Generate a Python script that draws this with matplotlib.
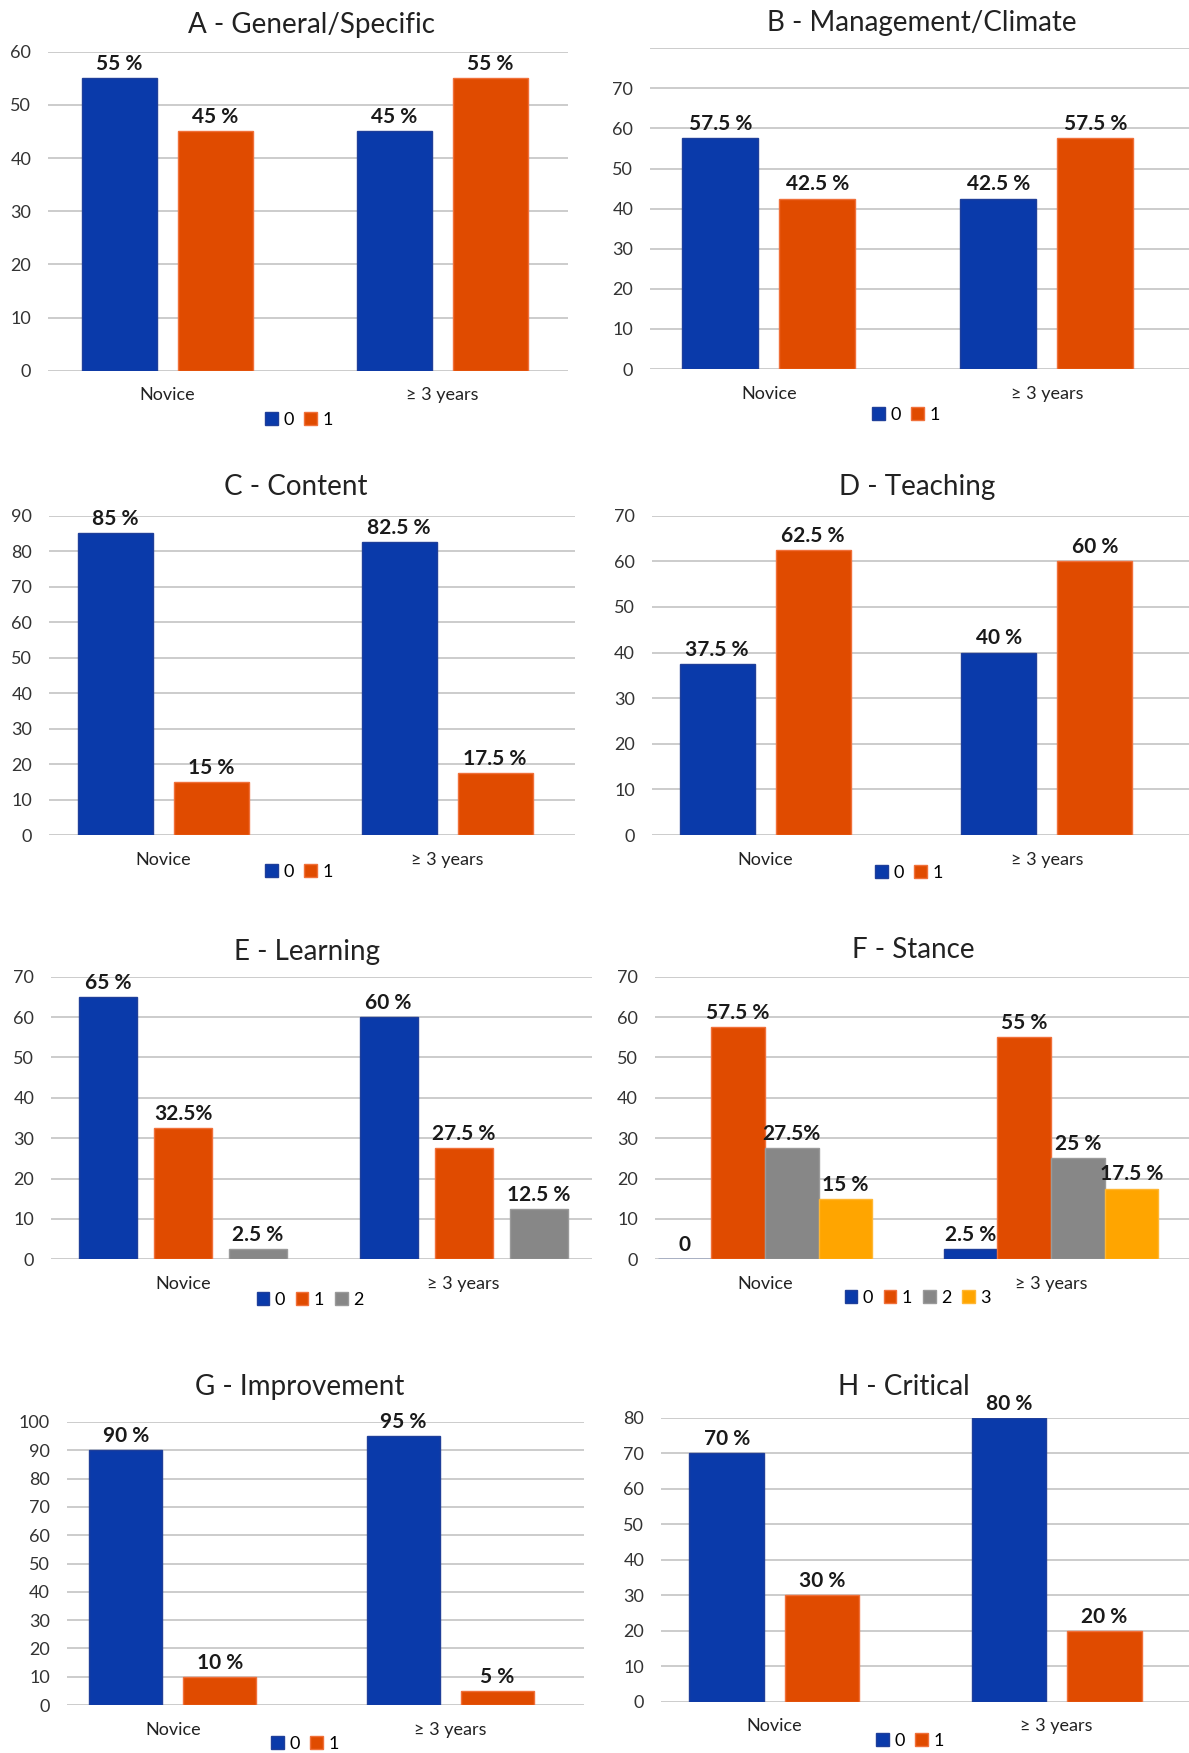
import numpy as np
import matplotlib.pyplot as plt

plt.rcParams['font.family'] = ['Lato', 'DejaVu Sans']

# categories
groups = ["Novice", "\u2265 3 years"]

# A - General/Specific
a_0 = [55, 45]
a_1 = [45, 55]
a_lbl_0 = ["55 %", "45 %"]
a_lbl_1 = ["45 %", "55 %"]

# B - Management/Climate
b_0 = [57.5, 42.5]
b_1 = [42.5, 57.5]
b_lbl_0 = ["57.5 %", "42.5 %"]
b_lbl_1 = ["42.5 %", "57.5 %"]

# C - Content
c_0 = [85, 82.5]
c_1 = [15, 17.5]
c_lbl_0 = ["85 %", "82.5 %"]
c_lbl_1 = ["15 %", "17.5 %"]

# D - Teaching
d_0 = [37.5, 40]
d_1 = [62.5, 60]
d_lbl_0 = ["37.5 %", "40 %"]
d_lbl_1 = ["62.5 %", "60 %"]

# E - Learning
e_0 = [65, 60]
e_1 = [32.5, 27.5]
e_2 = [2.5, 12.5]
e_lbl_0 = ["65 %", "60 %"]
e_lbl_1 = ["32.5%", "27.5 %"]
e_lbl_2 = ["2.5 %", "12.5 %"]

# F - Stance
f_0 = [0, 2.5]
f_1 = [57.5, 55]
f_2 = [27.5, 25]
f_3 = [15, 17.5]
f_lbl_0 = ["0", "2.5 %"]
f_lbl_1 = ["57.5 %", "55 %"]
f_lbl_2 = ["27.5%", "25 %"]
f_lbl_3 = ["15 %", "17.5 %"]

# G - Improvement
g_0 = [90, 95]
g_1 = [10, 5]
g_lbl_0 = ["90 %", "95 %"]
g_lbl_1 = ["10 %", "5 %"]

# H - Critical
h_0 = [70, 80]
h_1 = [30, 20]
h_lbl_0 = ["70 %", "80 %"]
h_lbl_1 = ["30 %", "20 %"]

colors = ['#0a3aaa', '#e04b00', '#878787', '#ffa500']
edges = ['#1f3f9a', '#f0703a', '#9a9a9a', '#ffb733']

W, H = 1189, 1753
fig = plt.figure(figsize=(W / 100, H / 100), dpi=100)


def panel(title, series, labels, ymax, tick_max, box, centres, bw, gap, title_xy, leg_xy):
    L, R, top, bot = box
    c0, c1 = centres
    d = c1 - c0
    ax = fig.add_axes([L / W, 1 - bot / H, (R - L) / W, (bot - top) / H])
    x = np.arange(len(groups))
    n = len(series)
    for i, (vals, lbls) in enumerate(zip(series, labels)):
        off = (i - (n - 1) / 2) * (bw + gap) / d
        bars = ax.bar(x + off, vals, bw / d, color=colors[i], edgecolor=edges[i],
                      linewidth=1, zorder=3, label=str(i))
        ax.bar_label(bars, labels=lbls, padding=3, fontsize=15, fontweight='bold',
                     color='#1a1a1a')
    ax.set_xlim((L - c0) / d, (R - c0) / d)
    ax.set_ylim(0, ymax)
    ticks = np.arange(0, ymax + 1, 10)
    ax.set_yticks(ticks)
    ax.set_yticklabels([str(t) if t <= tick_max else "" for t in ticks])
    ax.set_xticks(x)
    ax.set_xticklabels(groups)
    ax.tick_params(axis='y', length=0, pad=12, labelsize=13, labelcolor='#333333')
    ax.tick_params(axis='x', length=0, pad=12, labelsize=13, labelcolor='#222222')
    for s in ax.spines.values():
        s.set_visible(False)
    ax.yaxis.grid(True, color='#c8c8c8', linewidth=1.3)
    ax.set_axisbelow(True)
    fig.text(title_xy[0] / W, 1 - title_xy[1] / H, title, fontsize=20,
             ha='center', va='center', color='#222222')
    fig.legend(handles=[c[0] for c in ax.containers],
               labels=[str(i) for i in range(n)], loc='center',
               bbox_to_anchor=(leg_xy[0] / W, 1 - leg_xy[1] / H), ncol=n,
               frameon=False, fontsize=13, handlelength=0.7, handleheight=0.7,
               handletextpad=0.3, columnspacing=0.6, borderpad=0)
    return ax


panel("A - General/Specific", [a_0, a_1], [a_lbl_0, a_lbl_1], 60, 60,
      (48, 568, 51.7, 370.7), (167.3, 442), 75, 21, (311, 25), (299, 420))
panel("B - Management/Climate", [b_0, b_1], [b_lbl_0, b_lbl_1], 80, 70,
      (650, 1189, 48.3, 369), (768.9, 1046.8), 76, 21, (921.7, 23), (906, 415))
panel("C - Content", [c_0, c_1], [c_lbl_0, c_lbl_1], 90, 90,
      (49, 575, 515.7, 835), (163.5, 447), 75, 21, (296, 487), (299, 872))
panel("D - Teaching", [d_0, d_1], [d_lbl_0, d_lbl_1], 70, 70,
      (651.7, 1189, 515.7, 835), (765, 1046.8), 75, 21, (917, 487), (909, 873))
panel("E - Learning", [e_0, e_1, e_2], [e_lbl_0, e_lbl_1, e_lbl_2], 70, 70,
      (51, 592, 976.7, 1259.3), (183, 463.5), 58, 17, (307, 952), (310, 1300))
panel("F - Stance", [f_0, f_1, f_2, f_3], [f_lbl_0, f_lbl_1, f_lbl_2, f_lbl_3], 70, 70,
      (654.7, 1189, 976.7, 1259.3), (765, 1051), 53.7, 0, (913, 950), (917.7, 1298))
panel("G - Improvement", [g_0, g_1], [g_lbl_0, g_lbl_1], 100, 100,
      (66.5, 584, 1422, 1705), (172.8, 450.5), 73, 21, (300, 1387), (305, 1744))
panel("H - Critical", [h_0, h_1], [h_lbl_0, h_lbl_1], 80, 80,
      (661, 1189, 1418, 1701.7), (774.4, 1056.6), 74.5, 21, (903.8, 1387), (910, 1741))

fig.savefig("out.png", dpi=100, facecolor='white')
